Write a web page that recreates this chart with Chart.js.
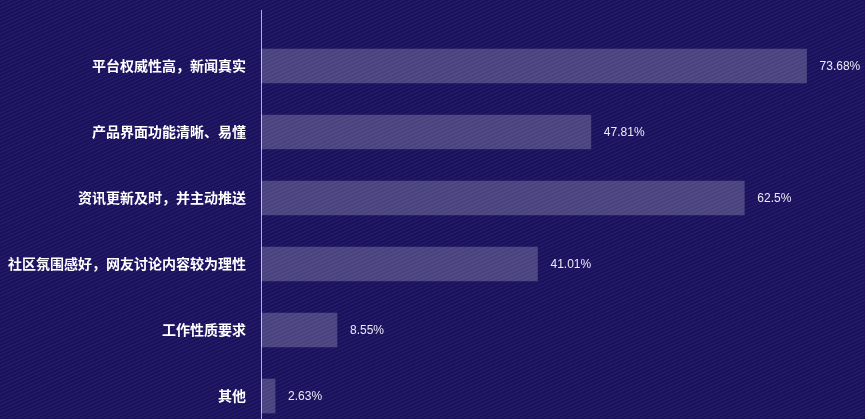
<!DOCTYPE html>
<html>
<head>
<meta charset="utf-8">
<script src="https://cdn.jsdelivr.net/npm/chart.js@4/dist/chart.umd.min.js"></script>
<style>
  html, body { margin: 0; padding: 0; background: #1b1358; overflow: hidden; }
  #wrap { width: 865px; height: 419px; }
</style>
</head>
<body>
<div id="wrap"><canvas id="c" width="865" height="419"></canvas></div>
<script>
// ---- data ----
const categories = ['平台权威性高，新闻真实', '产品界面功能清晰、易懂', '资讯更新及时，并主动推送', '社区氛围感好，网友讨论内容较为理性', '工作性质要求', '其他'];
const barValues = [73.6, 44.5, 65.2, 37.3, 10.25, 1.9];
const shareLabels = ['73.68%', '47.81%', '62.5%', '41.01%', '8.55%', '2.63%'];

const points = barValues.map((v, i) => ({ x: v, y: i }));

const bgPlugin = {
  id: 'bg',
  beforeDraw(chart) {
    const ctx = chart.ctx, w = chart.width, h = chart.height;
    ctx.save();
    ctx.fillStyle = '#19115a';
    ctx.fillRect(0, 0, w, h);
    ctx.strokeStyle = 'rgba(46,38,118,0.6)';
    ctx.lineWidth = 1.3;
    const slope = 0.45;
    for (let y0 = -20; y0 < h + w * slope + 20; y0 += 3.6) {
      ctx.beginPath();
      ctx.moveTo(0, y0);
      ctx.lineTo(w, y0 - w * slope);
      ctx.stroke();
    }
    ctx.restore();
  }
};

const valueLabelPlugin = {
  id: 'valueLabels',
  afterDatasetsDraw(chart) {
    const ctx = chart.ctx;
    const meta = chart.getDatasetMeta(0);
    ctx.save();
    ctx.font = '12px "Liberation Sans", Arial, sans-serif';
    ctx.fillStyle = '#eceaf6';
    ctx.textAlign = 'left';
    ctx.textBaseline = 'middle';
    meta.data.forEach((bar, i) => {
      ctx.fillText(shareLabels[i], bar.x + 13, bar.y + 1);
    });
    ctx.restore();
  }
};

new Chart(document.getElementById('c'), {
  type: 'bar',
  data: {
    datasets: [{
      data: points,
      backgroundColor: 'rgba(255,255,255,0.21)',
      borderWidth: 0,
      barThickness: 34
    }]
  },
  options: {
    indexAxis: 'y',
    responsive: false,
    animation: false,
    devicePixelRatio: 1,
    layout: { padding: { top: 10, right: 11, bottom: 0, left: 0 } },
    plugins: { legend: { display: false }, tooltip: { enabled: false } },
    scales: {
      x: { type: 'linear', display: false, min: 0, max: 80 },
      y: {
        type: 'linear',
        reverse: true,
        offset: false,
        min: -0.8485,
        max: 5.348,
        afterBuildTicks: s => { s.ticks = categories.map((_, i) => ({ value: i })); },
        afterFit: s => { s.width = 261; s.paddingTop = 0; s.paddingBottom = 0; },
        grid: { display: false, drawTicks: false, offset: false },
        border: { display: true, color: 'rgba(205,202,232,0.85)', width: 1 },
        ticks: {
          autoSkip: false,
          padding: 15,
          color: '#ffffff',
          font: { family: '"Noto Sans CJK SC", sans-serif', size: 14, weight: 'bold' },
          callback: v => categories[v]
        }
      }
    }
  },
  plugins: [bgPlugin, valueLabelPlugin]
});
</script>
</body>
</html>
